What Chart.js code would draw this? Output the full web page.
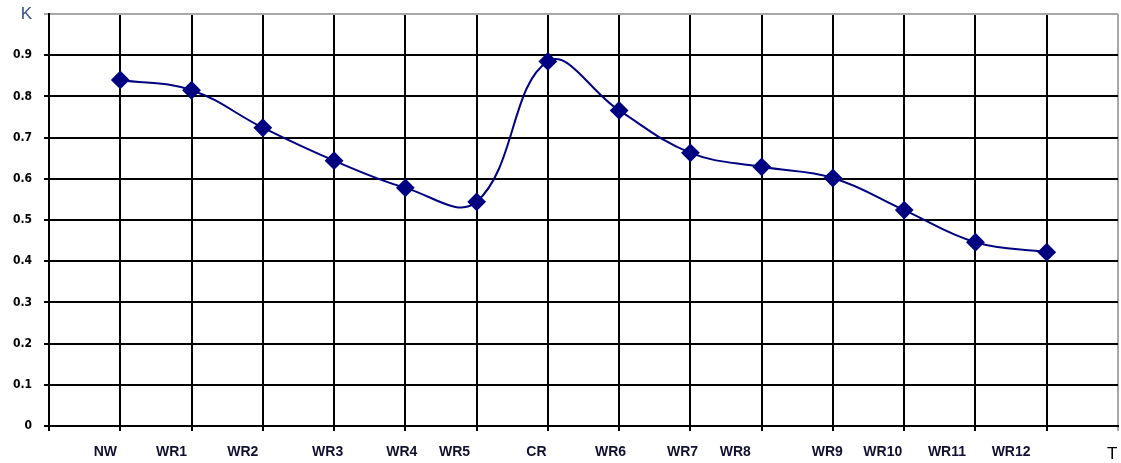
<!DOCTYPE html>
<html>
<head>
<meta charset="utf-8">
<script src="https://cdn.jsdelivr.net/npm/chart.js@4/dist/chart.umd.min.js"></script>
<style>
  html, body { margin: 0; padding: 0; background: #fff; }
  #wrap { width: 1121px; height: 463px; position: relative; }
</style>
</head>
<body>
<div id="wrap"><canvas id="c"></canvas></div>
<script>
// categories and values
const categories = ['NW', 'WR1', 'WR2', 'WR3', 'WR4', 'WR5', 'CR', 'WR6', 'WR7', 'WR8', 'WR9', 'WR10', 'WR11', 'WR12'];
const kValues = [0.84, 0.815, 0.724, 0.644, 0.578, 0.544, 0.885, 0.766, 0.663, 0.629, 0.602, 0.524, 0.446, 0.422];
const yTicks = [0, 0.1, 0.2, 0.3, 0.4, 0.5, 0.6, 0.7, 0.8, 0.9, 1.0];
// where the category names sit under the axis (in x-scale units), last one is the axis name
const labelPos = [0.79, 1.72, 2.72, 3.91, 4.95, 5.69, 6.84, 7.88, 8.89, 9.63, 10.92, 11.7, 12.6, 13.5, 14.92];
const axisNameX = 'T';
const axisNameY = 'K';

const points = kValues.map((v, i) => ({ x: i + 1, y: v }));
const bottomLabels = categories.concat([axisNameX]);

const lineColor = '#000080';

const isTop = ctx => !!(ctx && ctx.tick && ctx.tick.value === 1);
const isLast = ctx => !!(ctx && ctx.index === bottomLabels.length - 1);

// let the layout padding alone decide the plot edges
const noEdgePad = s => { s.paddingTop = 0; s.paddingBottom = 0; s.paddingLeft = 0; s.paddingRight = 0; };

new Chart(document.getElementById('c'), {
  type: 'line',
  data: {
    datasets: [{
      data: points,
      borderColor: lineColor,
      backgroundColor: lineColor,
      borderWidth: 2,
      tension: 0.4,
      pointStyle: 'rectRot',
      pointRadius: 8,
      pointHoverRadius: 8,
      fill: false
    }]
  },
  options: {
    responsive: true,
    maintainAspectRatio: false,
    animation: false,
    layout: { autoPadding: false, padding: { top: 14, right: 3, left: 0, bottom: 0 } },
    plugins: { legend: { display: false }, tooltip: { enabled: false } },
    scales: {
      x: {
        type: 'linear',
        position: 'bottom',
        min: 0,
        max: 15,
        ticks: { stepSize: 1, display: false },
        grid: {
          color: ctx => (ctx.tick && ctx.tick.value === 15) ? '#a8a8a8' : '#000',
          lineWidth: 2,
          tickLength: 5
        },
        border: { color: '#000', width: 2 },
        afterFit: s => { s.height = 6; noEdgePad(s); }
      },
      xl: {
        type: 'linear',
        position: 'bottom',
        min: 0,
        max: 15,
        afterBuildTicks: s => { s.ticks = labelPos.map(v => ({ value: v })); },
        ticks: {
          autoSkip: false,
          maxRotation: 0,
          padding: 12,
          color: ctx => isLast(ctx) ? '#000' : '#101030',
          font: ctx => isLast(ctx)
            ? { family: 'Liberation Sans', size: 17, weight: 'normal' }
            : { family: 'Liberation Sans', size: 14, weight: 'bold' },
          callback: (v, i) => bottomLabels[i]
        },
        grid: { display: false, drawTicks: false },
        border: { display: false },
        afterFit: s => { s.height = 31; noEdgePad(s); }
      },
      y: {
        min: 0,
        max: 1,
        afterBuildTicks: s => { s.ticks = yTicks.map(v => ({ value: v })); },
        ticks: {
          padding: 12,
          color: ctx => isTop(ctx) ? '#34508f' : '#000',
          font: ctx => isTop(ctx)
            ? { family: 'Liberation Sans', size: 17, weight: 'normal' }
            : { family: "'DejaVu Sans Condensed', 'Liberation Sans'", size: 12, weight: 'bold' },
          callback: v => v === 1 ? axisNameY : String(Math.round(v * 10) / 10)
        },
        grid: {
          color: ctx => (ctx.tick && ctx.tick.value === 1) ? '#a8a8a8' : '#000',
          lineWidth: 2,
          tickLength: 5
        },
        border: { color: '#000', width: 2 },
        afterFit: s => { s.width = 49; noEdgePad(s); }
      }
    }
  }
});
</script>
</body>
</html>
